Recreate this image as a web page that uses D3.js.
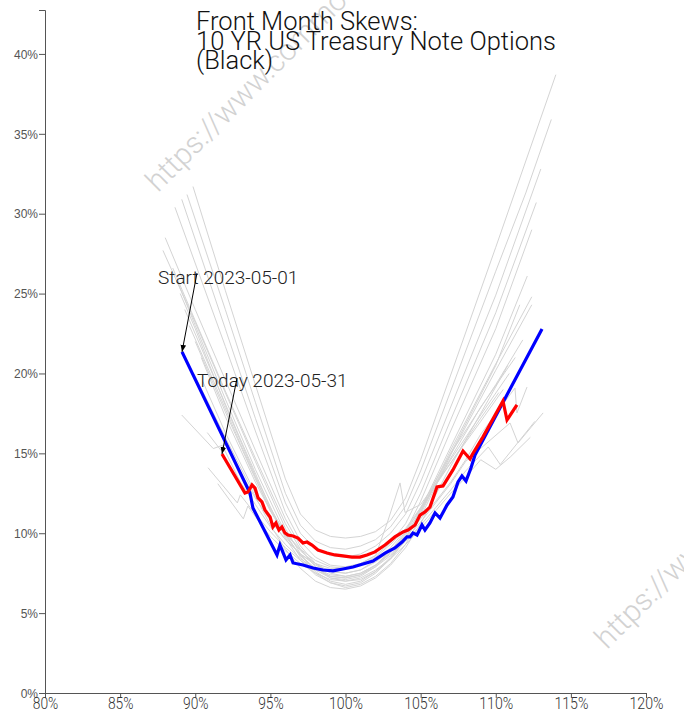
<!DOCTYPE html>
<html><head><meta charset="utf-8">
<script src="https://cdn.jsdelivr.net/npm/d3@7"></script>
<style>
html,body{margin:0;padding:0;background:#fff;}
svg{display:block;}
</style></head>
<body><svg id="chart" width="684" height="717"></svg>
<script>
// ---------------- DATA (strike % of ATM, implied vol %) ----------------
const titleLines = ["Front Month Skews:", "10 YR US Treasury Note Options", "(Black)"];
const xTicks = [80, 85, 90, 95, 100, 105, 110, 115, 120];
const yTicks = [0, 5, 10, 15, 20, 25, 30, 35, 40];
const startLabel = "Start 2023-05-01";
const todayLabel = "Today 2023-05-31";
const watermarkText = "https://www.commodityoptionsdata.com";

const startStrikes = [89.12, 93.64, 93.84, 95.44, 95.64, 96.04, 96.31, 96.51, 97.17, 97.84, 98.50, 99.17, 99.83, 100.50, 101.16, 101.83, 102.63, 103.29, 103.76, 104.09, 104.29, 104.49, 104.76, 105.09, 105.29, 105.62, 105.96, 106.29, 106.76, 107.15, 107.49, 107.75, 108.02, 108.35, 108.62, 113.08];
const startVols    = [21.35, 12.52, 11.58, 8.64, 9.26, 8.33, 8.64, 8.14, 8.01, 7.82, 7.70, 7.64, 7.76, 7.89, 8.08, 8.26, 8.76, 9.08, 9.45, 9.77, 9.77, 10.02, 9.89, 10.52, 10.20, 10.64, 11.27, 10.95, 11.77, 12.27, 13.21, 13.58, 13.27, 14.08, 14.90, 22.79];

const todayStrikes = [91.78, 93.31, 93.51, 93.78, 93.98, 94.18, 94.44, 94.64, 94.98, 95.17, 95.37, 95.57, 95.77, 95.97, 96.17, 96.51, 96.84, 97.17, 97.44, 97.77, 98.17, 98.77, 99.30, 99.83, 100.43, 100.96, 101.43, 101.96, 102.63, 103.29, 103.83, 104.16, 104.63, 104.96, 105.29, 105.62, 106.09, 106.49, 107.15, 107.82, 108.29, 108.42, 109.15, 110.48, 110.75, 111.41];
const todayVols    = [14.96, 12.52, 12.58, 13.02, 12.83, 12.21, 11.96, 11.46, 11.02, 10.39, 10.64, 10.20, 10.39, 10.02, 9.89, 9.83, 9.70, 9.39, 9.45, 9.26, 8.95, 8.76, 8.64, 8.58, 8.51, 8.51, 8.64, 8.83, 9.26, 9.77, 10.08, 10.20, 10.52, 11.14, 11.33, 11.64, 12.90, 12.96, 13.96, 15.15, 14.65, 14.90, 16.03, 18.28, 17.09, 18.03];

// intermediate days (grey history), each [strike, vol]
const day02 = [[89.85,31.7],[92,25.2],[94,19.3],[96,13.4],[97,11.2],[98,10.2],[99,9.8],[100,9.7],[101,9.8],[102,10.1],[103,10.8],[104,12.2],[105,14.6],[107,19.9],[110,27.9],[112,33.3],[114.0,38.7]];
const day03 = [[89.45,31.2],[92,24.0],[94,18.2],[96,12.5],[97,10.5],[98,9.5],[99,9.1],[100,9.0],[101,9.2],[102,9.6],[103,10.4],[104,11.7],[105,13.9],[107,18.9],[110,26.4],[112,31.3],[113.7,35.9]];
const day04 = [[89.1,30.9],[92,22.8],[94,17.2],[96,11.9],[97,10.0],[98,9.0],[99,8.6],[100,8.5],[101,8.7],[102,9.2],[103,10.0],[104,11.2],[105,13.2],[107,17.9],[110,24.9],[113.0,32.8]];
const day05 = [[88.65,30.4],[92,21.7],[94,16.4],[96,11.3],[97,9.5],[98,8.5],[99,8.0],[100,7.9],[101,8.1],[102,8.6],[103,9.4],[104,10.6],[105,12.5],[107,17.1],[110,23.8],[112.7,30.7]];
const day08 = [[88.0,28.5],[90,24.0],[92,19.6],[94,15.2],[96,10.9],[97,9.2],[98,8.1],[99,7.5],[100,7.3],[101,7.5],[102,8.0],[103,8.9],[104,10.1],[105,12.0],[107,16.4],[110,22.8],[112.4,29.0]];
const day09 = [[87.85,27.7],[90,23.2],[92,18.8],[94,14.5],[96,10.3],[97,8.7],[98,7.6],[99,7.0],[100,6.8],[101,7.0],[102,7.6],[103,8.5],[104,9.7],[105,11.5],[107,15.4],[110,21.2],[112.1,26.1]];
const day10 = [[88.5,26.6],[90,23.3],[92,18.9],[94,14.7],[96,10.6],[97,9.0],[98,7.9],[99,7.2],[100,7.0],[101,7.1],[102,7.6],[103,8.4],[104,9.6],[105,11.3],[107,15.2],[110,20.6],[112.4,24.8]];
const day11 = [[88.8,25.8],[90,23.0],[92,18.4],[94,14.0],[96,10.0],[97,8.5],[98,7.5],[99,6.9],[100,6.6],[101,6.8],[102,7.3],[103,8.1],[104,9.3],[105,11.0],[107,14.9],[110,20.2],[112.4,24.3]];
const day12 = [[89.0,25.0],[90,22.8],[92,18.0],[94,13.6],[96,9.7],[97,8.3],[98,7.4],[99,6.9],[100,6.7],[101,6.9],[102,7.5],[103,8.4],[104,9.6],[105,11.2],[107,15.0],[110,20.5],[111.6,24.3]];
const day15 = [[89.3,24.0],[91,20.3],[93,15.9],[95,11.6],[96,9.9],[97,8.6],[98,7.7],[99,7.2],[100,7.1],[101,7.3],[102,7.9],[103,8.8],[104,10.0],[105,11.6],[107,15.0],[110,19.3],[111.8,22.1]];
const day16 = [[89.6,23.0],[91,20.0],[93,15.6],[95,11.4],[96,9.8],[97,8.6],[98,7.8],[99,7.3],[100,7.2],[101,7.4],[102,8.0],[103,8.8],[104,9.9],[105,11.4],[107,14.7],[109,17.9],[111.3,21.0]];
const day17 = [[90.0,22.0],[92,17.6],[94,13.4],[95,11.5],[96,10.0],[97,8.9],[98,8.1],[99,7.6],[100,7.5],[101,7.7],[102,8.3],[103,9.1],[104,10.2],[105,11.5],[107,14.6],[109,17.4],[110.9,20.0]];
const day18 = [[90.4,21.0],[92,17.3],[94,13.2],[95,11.4],[96,10.0],[97,9.0],[98,8.3],[99,7.9],[100,7.8],[101,8.0],[102,8.5],[103,9.3],[104,10.3],[105,11.6],[107,14.4],[109,17.0],[110.5,19.0]];
const day19 = [[89.1,17.4],[91.2,15.3],[91.8,15.5],[93,13.2],[94,11.8],[95,10.4],[96,9.3],[97,8.4],[98,7.8],[99,7.4],[100,7.3],[101,7.5],[102,8.0],[103,8.7],[104,9.6],[105,10.7],[106,11.9],[107,13.1],[108,14.5],[110.95,16.9],[111.48,15.65],[113.15,17.53]];
const day22 = [[90.8,16.3],[91.7,15.2],[92.0,15.6],[93,13.8],[94,12.2],[95,10.8],[96,9.6],[97,8.7],[98,8.0],[99,7.6],[100,7.5],[101,7.7],[102,8.2],[103,8.9],[104,9.8],[105,10.9],[106,12.0],[107,13.2],[108,14.6],[109,16.2],[111.28,19.09],[111.41,17.53],[112.08,19.15]];
const day23 = [[90.85,14.1],[92.8,11.9],[93.0,12.4],[94,11.2],[95,10.1],[96,9.1],[97,8.3],[98,7.7],[99,7.3],[100,7.2],[101,7.4],[102,7.9],[103,8.6],[104,9.5],[105,10.5],[106,11.6],[107,12.7],[108,13.9],[109.5,15.4],[110.3,14.3],[112.6,17.0]];
const day24 = [[91.5,13.1],[93.2,10.9],[93.5,11.7],[94.5,10.4],[95,9.8],[96,8.9],[97,8.1],[98,7.5],[99,7.1],[100,7.0],[101,7.2],[102,7.7],[103,8.4],[104,9.3],[105,10.3],[106,11.4],[107,12.5],[108,13.5],[109,14.6],[110.0,14.0],[111.0,14.8],[112.3,16.0]];
const day25 = [[90.5,19.5],[92,16.3],[94,12.5],[95,10.9],[96,9.6],[97,8.7],[98,8.1],[99,7.8],[100,7.8],[101,8.1],[102,8.6],[102.76,10.6],[103.63,13.15],[103.96,11.3],[105,11.8],[107,14.4],[109,17.2],[110.2,18.8]];
const day26 = [[89.9,20.0],[92,16.0],[94,12.3],[95,10.5],[96,9.0],[97,7.8],[98,7.0],[99,6.6],[100,6.5],[101,6.7],[102,7.2],[103,8.0],[104,9.1],[105,10.6],[107,14.2],[109,17.5],[110.8,20.5]];
const historyDays = [day02, day03, day04, day05, day08, day09, day10, day11, day12, day15, day16, day17, day18, day19, day22, day23, day24, day25, day26];

// ---------------- DRAW ----------------
const svg = d3.select("#chart");
const x = d3.scaleLinear().domain([80, 120]).range([45, 646]);
const y = d3.scaleLinear().domain([0, 42.75]).range([693, 10]);

// watermark
const wm = svg.append("g").attr("class", "watermark");
[[158, 193], [607, 650]].forEach(([wx, wy]) => {
  wm.append("text")
    .attr("transform", `translate(${wx},${wy}) rotate(-45)`)
    .attr("font-family", "Roboto, sans-serif")
    .attr("font-weight", 300)
    .attr("font-size", 30)
    .attr("fill", "#d2d2d2")
    .text(watermarkText);
});

// axes
const yAxis = svg.append("g")
  .attr("transform", `translate(${x(80)},0)`)
  .call(d3.axisLeft(y).tickValues(yTicks).tickFormat(d => d + "%").tickSize(6));
yAxis.select(".domain").attr("stroke", "#555");
yAxis.selectAll(".tick line").attr("stroke", "#555");
yAxis.selectAll("text").attr("font-family", "'Liberation Sans', Arial, sans-serif")
  .attr("font-size", 12).attr("fill", "#555").attr("x", -7).attr("dy", "0.35em");

const xAxis = svg.append("g")
  .attr("transform", `translate(0,${y(0)})`)
  .call(d3.axisBottom(x).tickValues(xTicks).tickFormat(d => d + "%").tickSize(5));
xAxis.select(".domain").attr("stroke", "#555");
xAxis.selectAll(".tick line").attr("stroke", "#555");
xAxis.selectAll("text")
  .attr("font-family", "Roboto, sans-serif")
  .attr("font-weight", 300)
  .attr("font-size", 16)
  .attr("fill", "#333")
  .attr("y", 3)
  .attr("dy", "0.8em")
  .attr("textLength", d => (String(d).length + 1) * 8.5)
  .attr("lengthAdjust", "spacingAndGlyphs");

// grey history lines
const lineXY = d3.line().x(d => x(d[0])).y(d => y(d[1]));
svg.append("g").selectAll("path")
  .data(historyDays)
  .join("path")
  .attr("d", lineXY)
  .attr("fill", "none")
  .attr("stroke", "#d4d4d4")
  .attr("stroke-width", 1);

const startPts = startStrikes.map((s, i) => [s, startVols[i]]);
const todayPts = todayStrikes.map((s, i) => [s, todayVols[i]]);

svg.append("path").attr("d", lineXY(startPts)).attr("fill", "none")
  .attr("stroke", "#0000ff").attr("stroke-width", 3.2).attr("stroke-linejoin", "miter");
svg.append("path").attr("d", lineXY(todayPts)).attr("fill", "none")
  .attr("stroke", "#ff0000").attr("stroke-width", 3.2).attr("stroke-linejoin", "miter");

// arrow marker
svg.append("defs").append("marker")
  .attr("id", "arrow").attr("viewBox", "0 0 10 10")
  .attr("refX", 10).attr("refY", 5)
  .attr("markerWidth", 7).attr("markerHeight", 7)
  .attr("orient", "auto")
  .append("path").attr("d", "M0,1 L10,5 L0,9 Z").attr("fill", "#000");

function annotate(label, pt, tx, ty, ax, ay) {
  svg.append("text").attr("x", tx).attr("y", ty)
    .attr("font-family", "Roboto, sans-serif").attr("font-weight", 300)
    .attr("font-size", 19).attr("fill", "#222").text(label);
  svg.append("line")
    .attr("x1", ax).attr("y1", ay)
    .attr("x2", x(pt[0])).attr("y2", y(pt[1]))
    .attr("stroke", "#000").attr("stroke-width", 1)
    .attr("marker-end", "url(#arrow)");
}
annotate(startLabel, startPts[0], 158, 284, 197, 273);
annotate(todayLabel, todayPts[0], 197, 387, 237, 378);

// title
const title = svg.append("text")
  .attr("x", 196).attr("y", 30)
  .attr("font-family", "Roboto, sans-serif").attr("font-weight", 300)
  .attr("font-size", 25.5).attr("fill", "#111");
titleLines.forEach((t, i) => {
  title.append("tspan").attr("x", 196).attr("dy", i === 0 ? 0 : 19.5).text(t);
});
</script>
</body></html>
